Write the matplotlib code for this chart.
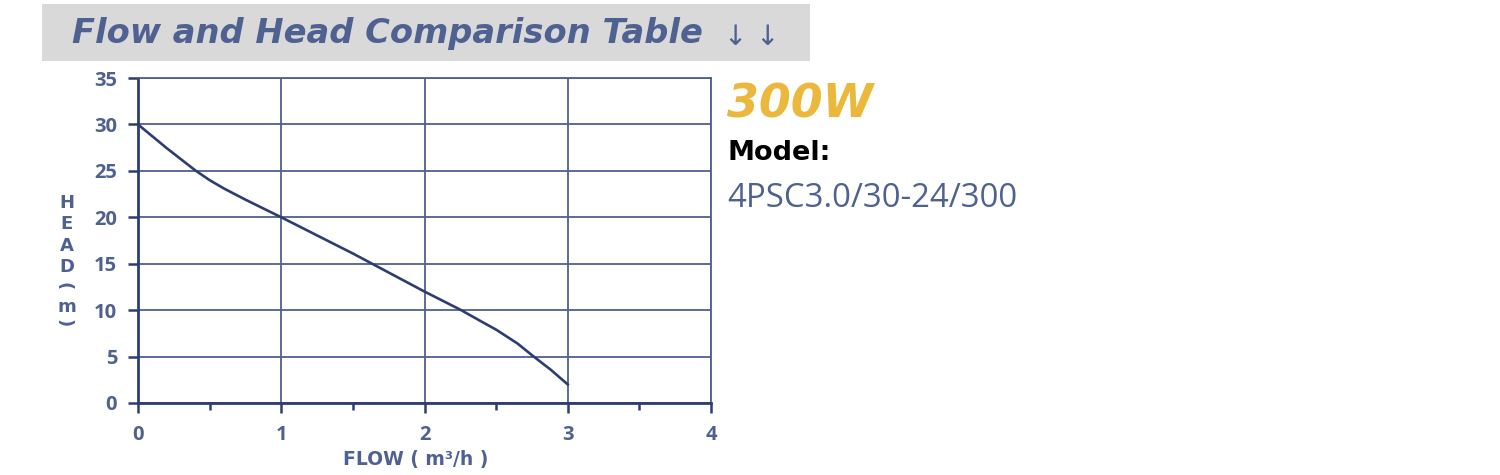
import matplotlib
matplotlib.use("Agg")
import matplotlib.pyplot as plt
from matplotlib.patches import Rectangle

flow = [0.0, 0.2, 0.4, 0.5, 0.6, 0.75, 1.0, 1.25, 1.5, 1.75, 2.0, 2.25,
        2.4, 2.5, 2.65, 2.75, 2.88, 3.0]
head = [30.0, 27.45, 25.05, 24.0, 23.1, 21.9, 20.0, 18.05, 16.1, 14.05, 12.0,
        10.05, 8.75, 7.9, 6.4, 5.15, 3.6, 2.0]
x_ticks = [0, 1, 2, 3, 4]
y_ticks = [0, 5, 10, 15, 20, 25, 30, 35]
title = "Flow and Head Comparison Table"
power = "300W"
model_label = "Model:"
model_name = "4PSC3.0/30-24/300"

NAVY = "#2d3d72"
GRID = "#4f5f8f"
TEXT = "#4e6190"

OS = ['Open Sans', 'DejaVu Sans']
DV = ['DejaVu Sans']
plt.rcParams['font.family'] = OS

fig = plt.figure(figsize=(15, 4.75), dpi=100)
W, H = 1500, 475

def fx(px):
    return px / W

def fy(py):
    return 1 - py / H

# banner
fig.patches.append(Rectangle((fx(42), fy(61)), fx(810) - fx(42), fy(4) - fy(61),
                             transform=fig.transFigure, facecolor="#d9d9d9",
                             edgecolor="none", zorder=0))
fig.text(fx(72), fy(43), title, fontsize=24.3, fontweight='bold', fontstyle='italic',
         color=TEXT, va='baseline', ha='left', family=DV)
fig.text(fx(724), fy(45), "\u2193 \u2193", fontsize=20, color=TEXT, va='baseline',
         ha='left', family=DV)

ax = fig.add_axes([fx(138), fy(403), fx(711) - fx(138), fy(78) - fy(403)])
ax.plot(flow, head, color=NAVY, lw=1.9, zorder=3, clip_on=False)
ax.set_xlim(0, 4)
ax.set_ylim(0, 35)
ax.set_xticks(x_ticks)
ax.set_xticks([0.5, 1.5, 2.5, 3.5], minor=True)
ax.set_yticks(y_ticks)
ax.grid(True, which='major', color=GRID, lw=1.3, zorder=1)
for s in ['top', 'right']:
    ax.spines[s].set_color(GRID)
    ax.spines[s].set_linewidth(1.3)
for s in ['left', 'bottom']:
    ax.spines[s].set_color(NAVY)
    ax.spines[s].set_linewidth(2.0)
ax.tick_params(axis='both', which='major', length=7, width=1.8, color=NAVY,
               labelcolor=TEXT, labelsize=14.5)
ax.tick_params(axis='x', which='minor', length=5, width=1.8, color=NAVY)
ax.tick_params(axis='x', which='major', pad=9)
ax.tick_params(axis='y', which='major', pad=8)
for lab in ax.get_xticklabels() + ax.get_yticklabels():
    lab.set_fontweight('bold')

# x label
fig.text(fx(416), fy(459), "FLOW ( m\u00b3/h )", fontsize=13.5, fontweight='bold',
         color=TEXT, ha='center', va='center', family=DV)

# stacked y label
ychars = [("H", 67, 203, 0), ("E", 67, 224, 0), ("A", 67, 246, 0), ("D", 67, 267, 0),
          ("(", 64, 286, -90), ("m", 67, 307, 0), (")", 64, 323, -90)]
for ch, px, py, rot in ychars:
    fig.text(fx(px), fy(py), ch, fontsize=13, fontweight='bold', color=TEXT,
             ha='center', va='center', rotation=rot, family=DV)

# right side texts
fig.text(fx(727), fy(118), power, fontsize=33, fontweight='bold', fontstyle='italic',
         color="#ecb83c", ha='left', va='baseline', family=DV)
fig.text(fx(727), fy(160), model_label, fontsize=19.5, fontweight='bold',
         color="#000000", ha='left', va='baseline', family=DV)
fig.text(fx(727), fy(207), model_name, fontsize=23.7, color=TEXT,
         ha='left', va='baseline', family=OS)

fig.savefig("out.png", dpi=100, facecolor="white")
